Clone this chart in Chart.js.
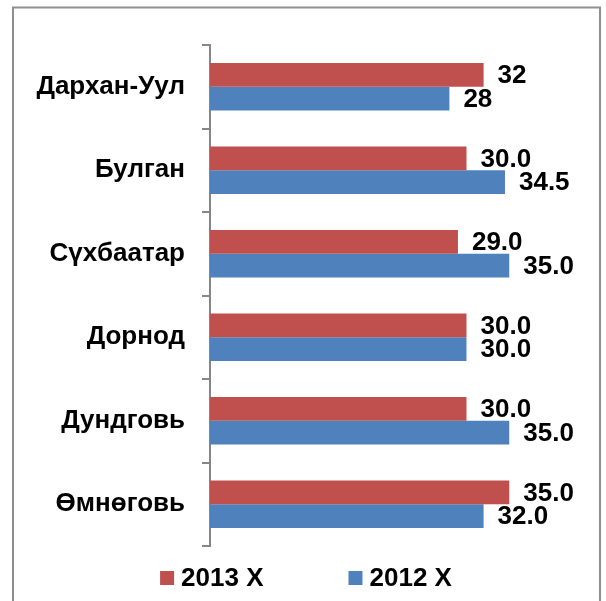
<!DOCTYPE html>
<html>
<head>
<meta charset="utf-8">
<script src="https://cdn.jsdelivr.net/npm/chart.js@4.4.0/dist/chart.umd.min.js"></script>
<style>
  html, body { margin: 0; padding: 0; background: #fff; }
</style>
</head>
<body>
<canvas id="grafica" width="606" height="601"></canvas>
<script>
const aimags = ['Дархан-Уул', 'Булган', 'Сүхбаатар', 'Дорнод', 'Дундговь', 'Өмнөговь'];
const seriesNames = ['2013 X', '2012 X'];
const values2013 = [32, 30, 29, 30, 30, 35];
const values2012 = [28, 34.5, 35, 30, 35, 32];
const labelDecimals = [0, 1, 1, 1, 1, 1];
const xMin = 0;
const xMax = 40;

const FONT = '"Liberation Sans", Arial, sans-serif';
const FSIZE = 26;

// gray frame around the chart (no bottom edge, like the source image)
const frame = {
    id: 'frame',
    beforeDraw(chart) {
        const ctx = chart.ctx;
        ctx.save();
        ctx.strokeStyle = '#8f8f8f';
        ctx.lineWidth = 2;
        ctx.beginPath();
        ctx.moveTo(13, 601);
        ctx.lineTo(13, 7.5);
        ctx.lineTo(600, 7.5);
        ctx.lineTo(600, 601);
        ctx.stroke();
        ctx.restore();
    }
};

// value labels at the end of each bar
const valueLabels = {
    id: 'valueLabels',
    afterDatasetsDraw(chart) {
        const ctx = chart.ctx;
        ctx.save();
        ctx.font = 'bold ' + FSIZE + 'px ' + FONT;
        ctx.fillStyle = '#000';
        ctx.textAlign = 'left';
        ctx.textBaseline = 'middle';
        chart.data.datasets.forEach(function(ds, i) {
            chart.getDatasetMeta(i).data.forEach(function(bar, j) {
                ctx.fillText(ds.data[j].toFixed(labelDecimals[j]), bar.x + 14, bar.y + 1);
            });
        });
        ctx.restore();
    }
};

// legend under the plot
const bottomLegend = {
    id: 'bottomLegend',
    afterDraw(chart) {
        const ctx = chart.ctx;
        ctx.save();
        ctx.font = 'bold ' + FSIZE + 'px ' + FONT;
        ctx.textBaseline = 'middle';
        ctx.textAlign = 'left';
        const box = 14, gap = 7, spacing = 85;
        const items = chart.data.datasets.map(function(ds) {
            return { text: ds.label, color: ds.backgroundColor, w: ctx.measureText(ds.label).width };
        });
        let total = 0;
        items.forEach(function(it) { total += box + gap + it.w; });
        total += spacing * (items.length - 1);
        let x = 306 - total / 2;
        const yc = 578;
        items.forEach(function(it) {
            ctx.fillStyle = it.color;
            ctx.fillRect(x, yc - 7, box, box);
            ctx.fillStyle = '#000';
            ctx.fillText(it.text, x + box + gap, yc + 1);
            x += box + gap + it.w + spacing;
        });
        ctx.restore();
    }
};

const $grafica = document.getElementById('grafica').getContext('2d');

new Chart($grafica, {
    type: 'bar',
    data: {
        labels: aimags,
        datasets: [
            {
                label: seriesNames[0],
                data: values2013,
                backgroundColor: '#C0504D',
                borderWidth: 0,
                categoryPercentage: 0.57,
                barPercentage: 1
            },
            {
                label: seriesNames[1],
                data: values2012,
                backgroundColor: '#4F81BD',
                borderWidth: 0,
                categoryPercentage: 0.57,
                barPercentage: 1
            }
        ]
    },
    options: {
        indexAxis: 'y',
        responsive: false,
        animation: false,
        layout: {
            padding: { left: 10, right: 54, top: 45, bottom: 55 }
        },
        plugins: {
            legend: { display: false },
            tooltip: { enabled: false }
        },
        scales: {
            x: {
                display: false,
                min: xMin,
                max: xMax
            },
            y: {
                afterFit: function(s) {
                    s.width = 200;
                    s.paddingTop = 0;
                    s.paddingBottom = 0;
                },
                border: { display: true, color: '#868686', width: 2 },
                grid: {
                    drawOnChartArea: false,
                    drawTicks: true,
                    tickLength: 8,
                    color: '#868686',
                    lineWidth: 2,
                    offset: true
                },
                ticks: {
                    color: '#000',
                    padding: 17,
                    font: { family: FONT, size: FSIZE, weight: 'bold' }
                }
            }
        }
    },
    plugins: [frame, valueLabels, bottomLegend]
});
</script>
</body>
</html>
